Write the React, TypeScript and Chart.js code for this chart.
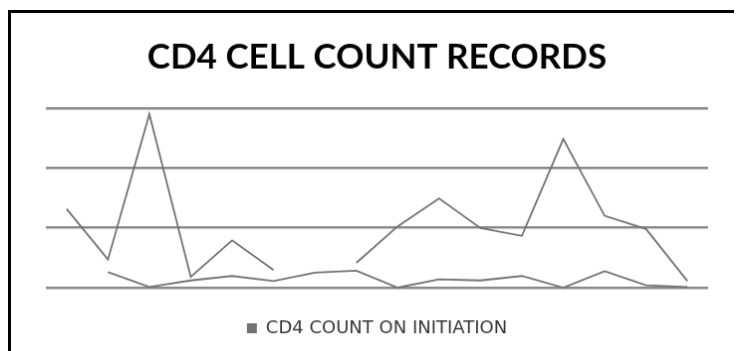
import React, { useEffect, useRef } from "react";
import { Chart, registerables } from "chart.js";

Chart.register(...registerables);

// Record numbers along the horizontal axis (not labelled on the chart)
const RECORDS = ["1", "2", "3", "4", "5", "6", "7", "8", "9", "10", "11", "12", "13", "14", "15", "16"];

// CD4 counts (cells/mm³)
const CD4_ON_INITIATION: (number | null)[] = [263, 94, 580, 36, 158, 59, null, 83, 205, 298, 199, 173, 497, 240, 196, 22];
const CD4_SECOND: (number | null)[] = [null, 52, 2, 24, 39, 22, 50, 57, 0, 28, 24, 39, 0, 55, 8, 2];

const Y_MIN = 0;
const Y_MAX = 600;
const Y_STEP = 200;

const TITLE = "CD4 CELL COUNT RECORDS";
const LEGEND_LABEL = "CD4 COUNT ON INITIATION";

const LINE_COLOR = "#727272";
const GRID_COLOR = "#8a8a8a";

export default function App() {
  const canvasRef = useRef<HTMLCanvasElement | null>(null);

  useEffect(() => {
    if (!canvasRef.current) return;
    const chart = new Chart(canvasRef.current, {
      type: "line",
      data: {
        labels: RECORDS,
        datasets: [
          {
            label: LEGEND_LABEL,
            data: CD4_ON_INITIATION,
            borderColor: LINE_COLOR,
            backgroundColor: LINE_COLOR,
            borderWidth: 1.8,
            pointRadius: 0,
            tension: 0,
            spanGaps: false,
            clip: false as any,
          },
          {
            label: "",
            data: CD4_SECOND,
            borderColor: LINE_COLOR,
            backgroundColor: LINE_COLOR,
            borderWidth: 1.8,
            pointRadius: 0,
            tension: 0,
            spanGaps: false,
            clip: false as any,
          },
        ],
      },
      options: {
        responsive: false,
        animation: false,
        devicePixelRatio: 1,
        layout: { padding: { left: 35, right: 26, top: 0, bottom: 8 } },
        scales: {
          x: {
            type: "category",
            offset: true,
            display: false,
          },
          y: {
            min: Y_MIN,
            max: Y_MAX,
            display: true,
            ticks: { display: false, stepSize: Y_STEP },
            border: { display: false },
            grid: { color: GRID_COLOR, lineWidth: 2.5, drawTicks: false },
          },
        },
        plugins: {
          title: {
            display: true,
            text: TITLE,
            color: "#000000",
            font: { family: "Lato", weight: "bold", size: 35 },
            padding: { top: 24, bottom: 30 },
          },
          legend: {
            display: true,
            position: "bottom",
            labels: {
              color: "#383838",
              font: { family: "'DejaVu Sans'", size: 18 },
              boxWidth: 10,
              boxHeight: 10,
              padding: 32,
              filter: (item) => item.text === LEGEND_LABEL,
              generateLabels: (c) =>
                Chart.defaults.plugins.legend.labels.generateLabels(c).map((l) => ({
                  ...l,
                  fillStyle: LINE_COLOR,
                  strokeStyle: LINE_COLOR,
                  lineWidth: 0,
                })),
            },
          },
          tooltip: { enabled: false },
        },
      },
    });
    return () => chart.destroy();
  }, []);

  // Fixed positioning keeps the frame from creating page scroll
  return (
    <canvas
      ref={canvasRef}
      width={726}
      height={345}
      style={{
        position: "fixed",
        left: 8,
        top: 10,
        display: "block",
        borderTop: "3px solid #000",
        borderLeft: "3px solid #000",
        background: "#fff",
      }}
    />
  );
}
